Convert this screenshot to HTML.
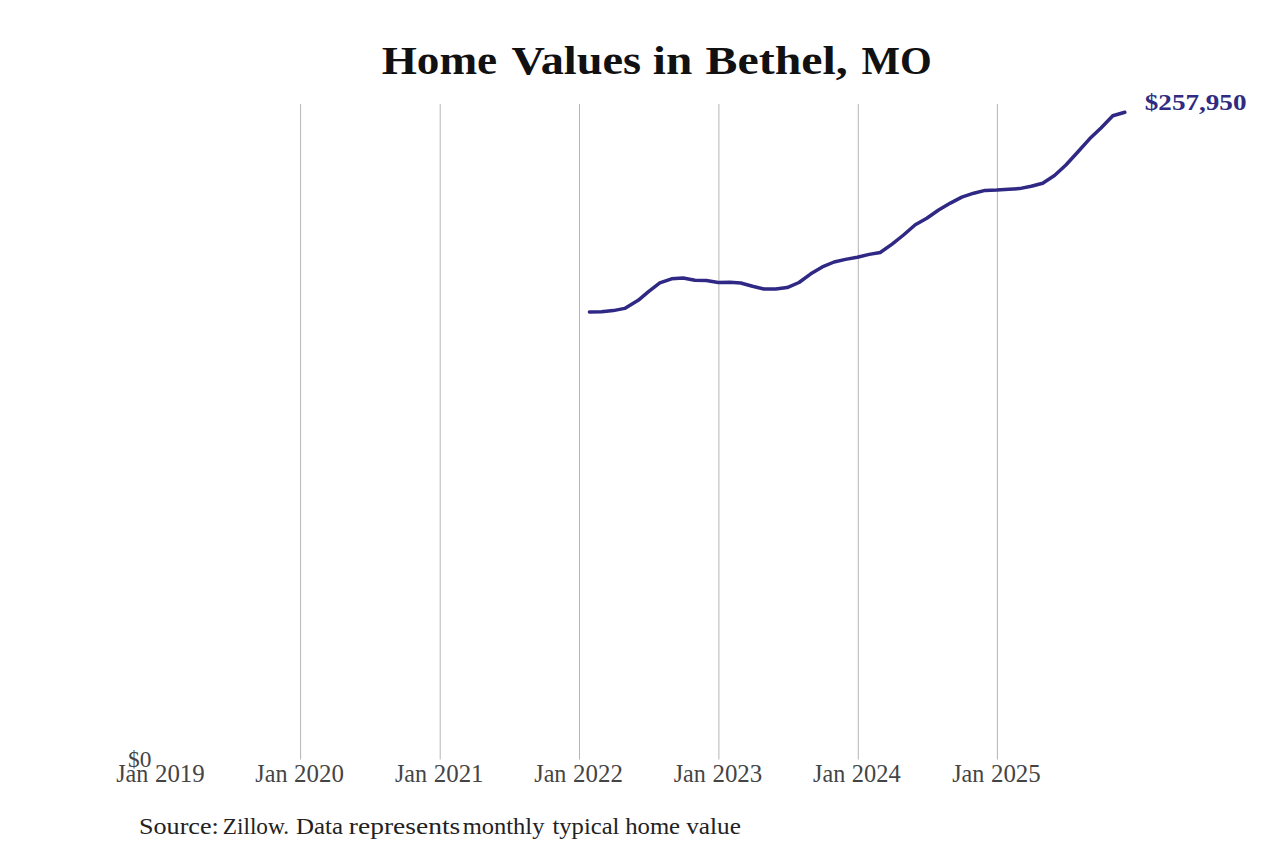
<!DOCTYPE html>
<html><head><meta charset="utf-8"><style>
html,body{margin:0;padding:0;background:#fff;width:1280px;height:853px;overflow:hidden}
svg{display:block}
text{font-family:"Liberation Serif",serif}
.ax{font-size:24.5px;fill:#444}
.ttl{font-size:39.3px;font-weight:bold;fill:#111}
.src{font-size:23px;fill:#222}
.val{font-size:23px;font-weight:bold;fill:#302b80}
.d0{font-size:23.5px;fill:#444}
</style></head><body>
<svg width="1280" height="853" viewBox="0 0 1280 853">
<rect width="1280" height="853" fill="#fff"/>
<text x="381.65" y="73.75" textLength="115.52" lengthAdjust="spacingAndGlyphs" class="ttl" >Home</text><text x="511.5" y="73.75" textLength="129.61" lengthAdjust="spacingAndGlyphs" class="ttl" >Values</text><text x="652.8" y="73.75" textLength="39.44" lengthAdjust="spacingAndGlyphs" class="ttl" >in</text><text x="705.58" y="73.75" textLength="142.19" lengthAdjust="spacingAndGlyphs" class="ttl" >Bethel,</text><text x="861.46" y="73.75" textLength="70.27" lengthAdjust="spacingAndGlyphs" class="ttl" >MO</text>
<line x1="300.6" y1="104" x2="300.6" y2="759.5" stroke="#b5b5b5" stroke-width="1"/>
<line x1="440.2" y1="104" x2="440.2" y2="759.5" stroke="#b5b5b5" stroke-width="1"/>
<line x1="579.5" y1="104" x2="579.5" y2="759.5" stroke="#b5b5b5" stroke-width="1"/>
<line x1="718.9" y1="104" x2="718.9" y2="759.5" stroke="#b5b5b5" stroke-width="1"/>
<line x1="858.3" y1="104" x2="858.3" y2="759.5" stroke="#b5b5b5" stroke-width="1"/>
<line x1="997.4" y1="104" x2="997.4" y2="759.5" stroke="#b5b5b5" stroke-width="1"/>
<path d="M589.4,312.0 L601.5,311.8 L613.3,310.6 L624.7,308.4 L638.2,300.3 L648.2,291.8 L659.8,282.9 L671.6,278.8 L683.1,278.0 L694.9,280.3 L706.3,280.6 L718.2,282.4 L730.0,282.3 L740.7,283.0 L752.5,286.3 L763.9,289.0 L775.7,289.0 L787.2,287.6 L799.0,282.5 L810.8,273.8 L822.3,266.9 L834.1,262.0 L845.5,259.4 L857.3,257.3 L869.2,254.4 L880.2,252.5 L892.1,244.1 L903.5,235.0 L915.3,224.8 L926.8,218.2 L938.6,210.0 L950.4,203.1 L961.8,197.1 L973.7,193.2 L985.1,190.4 L996.9,190.0 L1008.7,189.3 L1019.4,188.6 L1031.2,186.3 L1042.7,183.2 L1054.5,175.5 L1065.9,165.0 L1077.8,152.0 L1089.6,138.8 L1101.0,128.0 L1112.8,115.8 L1124.8,112.3" fill="none" stroke="#2f2884" stroke-width="3.5" stroke-linejoin="round" stroke-linecap="round"/>
<text x="1144.82" y="110.3" textLength="101.65" lengthAdjust="spacingAndGlyphs" class="val" >$257,950</text>
<text x="128.1" y="767.3" textLength="23.39" lengthAdjust="spacingAndGlyphs" class="d0" >$0</text>
<text x="116.15" y="781.7" textLength="32.16" lengthAdjust="spacingAndGlyphs" class="ax" >Jan</text><text x="154.93" y="781.7" textLength="49.83" lengthAdjust="spacingAndGlyphs" class="ax" >2019</text>
<text x="255.35" y="781.7" textLength="32.16" lengthAdjust="spacingAndGlyphs" class="ax" >Jan</text><text x="294.13" y="781.7" textLength="49.83" lengthAdjust="spacingAndGlyphs" class="ax" >2020</text>
<text x="394.95" y="781.7" textLength="32.16" lengthAdjust="spacingAndGlyphs" class="ax" >Jan</text><text x="433.73" y="781.7" textLength="49.83" lengthAdjust="spacingAndGlyphs" class="ax" >2021</text>
<text x="534.25" y="781.7" textLength="32.16" lengthAdjust="spacingAndGlyphs" class="ax" >Jan</text><text x="573.03" y="781.7" textLength="49.83" lengthAdjust="spacingAndGlyphs" class="ax" >2022</text>
<text x="673.65" y="781.7" textLength="32.16" lengthAdjust="spacingAndGlyphs" class="ax" >Jan</text><text x="712.43" y="781.7" textLength="49.83" lengthAdjust="spacingAndGlyphs" class="ax" >2023</text>
<text x="813.05" y="781.7" textLength="32.16" lengthAdjust="spacingAndGlyphs" class="ax" >Jan</text><text x="851.85" y="781.7" textLength="48.8" lengthAdjust="spacingAndGlyphs" class="ax" >2024</text>
<text x="952.15" y="781.7" textLength="32.16" lengthAdjust="spacingAndGlyphs" class="ax" >Jan</text><text x="990.93" y="781.7" textLength="49.83" lengthAdjust="spacingAndGlyphs" class="ax" >2025</text>
<text x="138.98" y="834.2" textLength="79.85" lengthAdjust="spacingAndGlyphs" class="src" >Source:</text><text x="222.74" y="834.2" textLength="66.37" lengthAdjust="spacingAndGlyphs" class="src" >Zillow.</text><text x="295.92" y="834.2" textLength="47.04" lengthAdjust="spacingAndGlyphs" class="src" >Data</text><text x="348.8" y="834.2" textLength="111.44" lengthAdjust="spacingAndGlyphs" class="src" >represents</text><text x="462.68" y="834.2" textLength="81.78" lengthAdjust="spacingAndGlyphs" class="src" >monthly</text><text x="552.5" y="834.2" textLength="66.88" lengthAdjust="spacingAndGlyphs" class="src" >typical</text><text x="625.17" y="834.2" textLength="54.94" lengthAdjust="spacingAndGlyphs" class="src" >home</text><text x="686.25" y="834.2" textLength="54.64" lengthAdjust="spacingAndGlyphs" class="src" >value</text>
</svg>
</body></html>
